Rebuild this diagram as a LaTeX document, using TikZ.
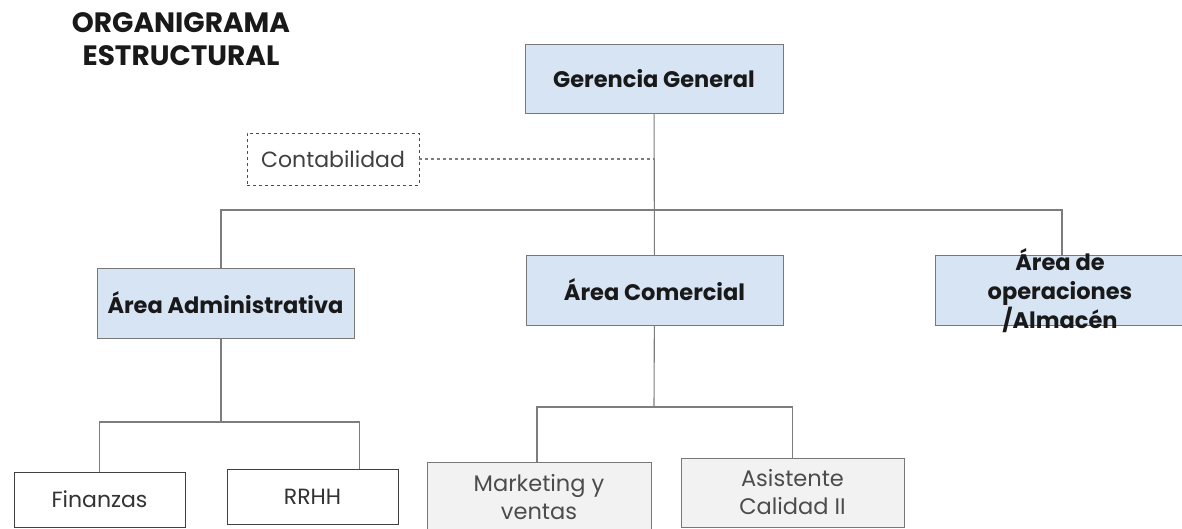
\documentclass[tikz,border=0pt]{standalone}
\usepackage{fontspec}
\setmainfont{Poppins}
\definecolor{areablue}{RGB}{214,228,244}
\definecolor{boxgray}{RGB}{120,120,120}
\definecolor{subfill}{RGB}{242,242,242}
\definecolor{lineagray}{RGB}{125,125,125}
\begin{document}
\begin{tikzpicture}[x=1pt,y=-1pt,
    area/.style={draw=boxgray, fill=areablue, minimum width=257pt, minimum height=70pt, inner sep=0pt, font=\bfseries\fontsize{22.5}{26}\selectfont, text=black!90},
    apoyo/.style={draw=black!70, dashed, minimum width=172pt, minimum height=52pt, inner sep=0pt, font=\fontsize{22}{26}\selectfont, text=black!75},
    sub/.style={draw=black!75, fill=white, minimum width=171pt, minimum height=55pt, inner sep=0pt, font=\fontsize{22}{26}\selectfont, text=black!80},
    subgris/.style={draw=boxgray, fill=subfill, inner sep=0pt, align=center, font=\fontsize{22.5}{28}\selectfont, text=black!70},
    linea/.style={draw=lineagray, line width=1.1pt}]
  \useasboundingbox (0,0) rectangle (1182,529);
  \fill[white] (0,0) rectangle (1182,529);
  \node[align=center, font=\bfseries\fontsize{28}{33}\selectfont, text=black!90] (tit) at (181,39) {ORGANIGRAMA\\ESTRUCTURAL};
  % jefatura y apoyo
  \node[area, minimum width=258pt, minimum height=69pt] (ger) at (654,78.5) {Gerencia General};
  \node[apoyo] (cont) at (333,159) {Contabilidad};
  % areas
  \node[area] (adm) at (225.5,303) {Área Administrativa};
  \node[area] (com) at (654.5,290) {Área Comercial};
  \node[area, minimum width=254pt] (ope) at (1062,290) {};
  \node[align=center, font=\bfseries\fontsize{22.5}{29}\selectfont, text=black!90] (opetxt) at (1060,291) {Área de\\operaciones\\/Almacén};
  % subareas
  \node[sub] (fin) at (99.5,499.5) {Finanzas};
  \node[sub] (rrhh) at (312.5,496.5) {RRHH};
  \node[subgris, minimum width=224pt, minimum height=70pt] (mkt) at (539,497) {Marketing y\\ventas};
  \node[subgris, minimum width=223pt, minimum height=69pt] (asi) at (792.5,492.5) {Asistente\\Calidad II};
  % conectores
  \coordinate (bus) at (654,210);
  \coordinate (admbus) at (221,422);
  \coordinate (combus) at (654,407);
  \draw[linea] (ger) -- (com);
  \draw[linea, dashed] (cont) -- (cont -| ger);
  \draw[linea] ([xshift=-4.5pt]adm.north) |- (bus) -| (ope);
  \draw[linea] (admbus |- adm.south) -- (admbus);
  \draw[linea] (fin) |- (admbus) -| ([xshift=47pt]rrhh.north);
  \draw[linea] (com) -- (combus);
  \draw[linea] ([xshift=-2pt]mkt.north) |- (combus) -| (asi);
\end{tikzpicture}
\end{document}
